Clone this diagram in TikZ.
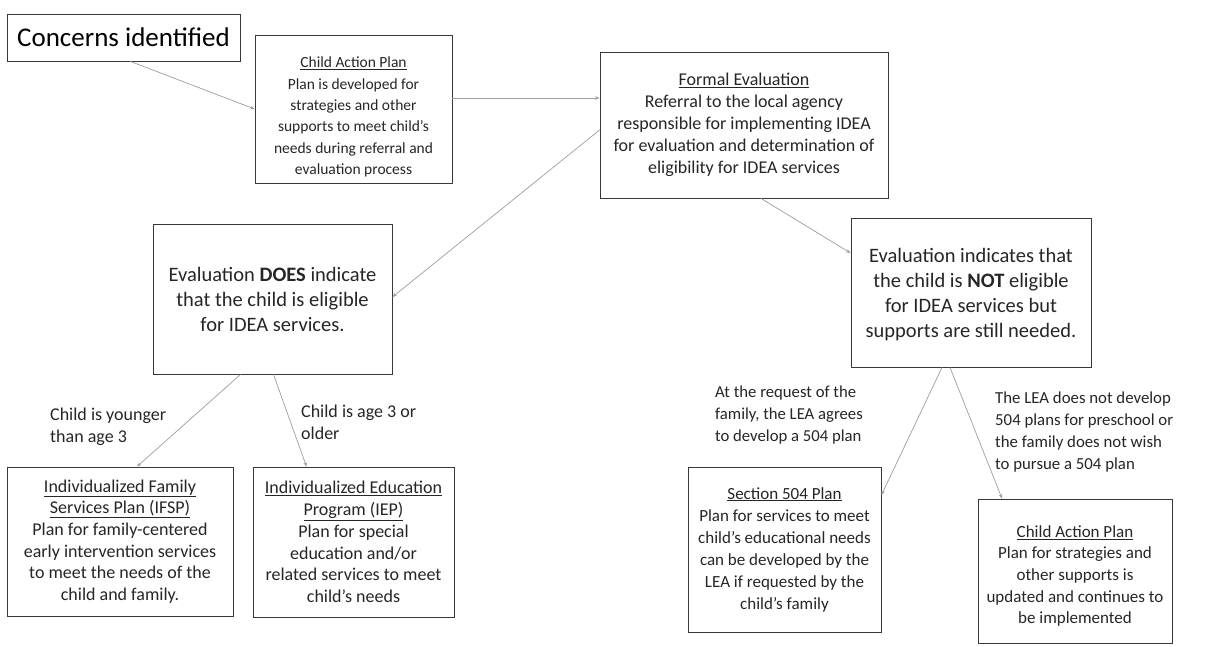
\documentclass[tikz,border=0pt]{standalone}
\usepackage{fontspec}
\setmainfont{Carlito}
\usetikzlibrary{arrows.meta}
\begin{document}
\begin{tikzpicture}[x=1pt,y=-1pt,
  box/.style={draw=black!78, line width=0.9pt, align=center, inner sep=0pt, text=black!85},
  boxtext/.style={align=center, inner sep=0pt, text=black!85},
  conn/.style={draw=black!38, line width=0.7pt, -{Stealth[length=4.5pt,width=3.5pt]}},
  lbl/.style={align=left, anchor=west, inner sep=0pt, text=black!85}]
\useasboundingbox (0,0) rectangle (1225,646);
\fill[white] (0,0) rectangle (1225,646);

\node[box, minimum width=233pt, minimum height=47pt, text=black, font=\fontsize{27}{32}\selectfont] (concerns) at (123.5,37.5) {Concerns identified};

\node[box, minimum width=197pt, minimum height=148pt,
  label={[boxtext, yshift=-8pt, font=\fontsize{15.5}{21.4}\selectfont]center:{\underline{Child Action Plan}\\Plan is developed for\\strategies and other\\supports to meet child’s\\needs during referral and\\evaluation process}}] (cap) at (353.5,109) {};

\node[box, minimum width=288pt, minimum height=146pt, font=\fontsize{18}{22}\selectfont] (fe) at (744,125)
 {\underline{Formal Evaluation}\\Referral to the local agency\\responsible for implementing IDEA\\for evaluation and determination of\\eligibility for IDEA services};

\node[box, minimum width=239pt, minimum height=150pt, font=\fontsize{20.5}{25}\selectfont] (does) at (272.5,299)
 {Evaluation \textbf{DOES} indicate\\that the child is eligible\\for IDEA services.};

\node[box, minimum width=240pt, minimum height=149pt,
  label={[boxtext, yshift=-2pt, font=\fontsize{20.5}{25}\selectfont]center:{Evaluation indicates that\\the child is \textbf{NOT} eligible\\for IDEA services but\\supports are still needed.}}] (not) at (971,292.5) {};

\node[box, minimum width=226pt, minimum height=149pt, font=\fontsize{18}{21.7}\selectfont] (ifsp) at (120,541.5)
 {\underline{Individualized Family}\\\underline{Services Plan (IFSP)}\\Plan for family-centered\\early intervention services\\to meet the needs of the\\child and family.};

\node[box, minimum width=201pt, minimum height=150pt, font=\fontsize{18}{21.7}\selectfont] (iep) at (353.5,542)
 {\underline{Individualized Education}\\\underline{Program (IEP)}\\Plan for special\\education and/or\\related services to meet\\child’s needs};

\node[box, minimum width=193pt, minimum height=165pt, font=\fontsize{17}{22}\selectfont] (sec) at (784.5,549.5)
 {\underline{Section 504 Plan}\\Plan for services to meet\\child’s educational needs\\can be developed by the\\LEA if requested by the\\child’s family};

\node[box, minimum width=194pt, minimum height=144pt,
  label={[boxtext, yshift=-5pt, font=\fontsize{17}{21.6}\selectfont]center:{\underline{Child Action Plan}\\Plan for strategies and\\other supports is\\updated and continues to\\be implemented}}] (cap2) at (1075,571) {};

\node[lbl, font=\fontsize{18}{22}\selectfont] (lyoung) at (50,427) {Child is younger\\than age 3};
\node[lbl, font=\fontsize{18}{22}\selectfont] (lold) at (301,422) {Child is age 3 or\\older};
\node[lbl, font=\fontsize{16.7}{22}\selectfont] (lreq) at (715,415) {At the request of the\\family, the LEA agrees\\to develop a 504 plan};
\node[lbl, font=\fontsize{16.8}{22.3}\selectfont] (llea) at (995,432) {The LEA does not develop\\504 plans for preschool or\\the family does not wish\\to pursue a 504 plan};

\draw[conn] ([xshift=7pt]concerns.south) -- (cap.west);
\draw[conn] ([yshift=11pt]cap.east) -- ([yshift=27pt]fe.west);
\draw[conn] ([yshift=-5pt]fe.west) -- ([yshift=2pt]does.east);
\draw[conn] ([xshift=17pt]fe.south) -- ([yshift=39.5pt]not.west);
\draw[conn] ([xshift=-32pt]does.south) -- ([xshift=17pt]ifsp.north);
\draw[conn] ([xshift=1pt]does.south) -- ([xshift=-47pt]iep.north);
\draw[conn] ([xshift=-29pt]not.south) -- ([yshift=54.5pt]sec.east);
\draw[conn] ([xshift=-21pt]not.south) -- ([xshift=-73pt]cap2.north);
\end{tikzpicture}
\end{document}
